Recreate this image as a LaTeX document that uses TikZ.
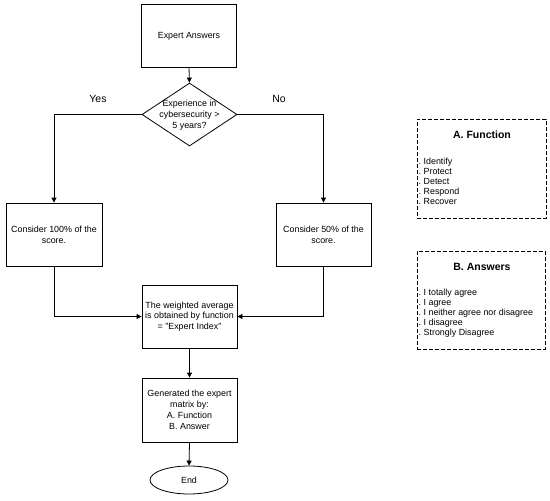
\documentclass[tikz,border=0pt]{standalone}
\usepackage{fontspec}
\setmainfont{Liberation Sans}
\usetikzlibrary{shapes.geometric,arrows.meta}
\begin{document}
\begin{tikzpicture}[x=1pt,y=-1pt,
  every node/.style={inner sep=0pt},
  txt/.style={font=\fontsize{8.9}{10.8}\selectfont},
  procbox/.style={draw, line width=0.8pt, minimum width=95pt, minimum height=63pt, align=center, txt},
  arr/.style={line width=0.8pt, -{Triangle[length=5pt,width=5pt]}},
  dbox/.style={draw, line width=0.8pt, dash pattern=on 4pt off 2pt},
  ttl/.style={font=\bfseries\fontsize{10.5}{12}\selectfont},
  lbl/.style={font=\fontsize{10.5}{12}\selectfont}]
\useasboundingbox (0,0) rectangle (550,501);
\fill[white] (0,0) rectangle (550,501);

\node[procbox] (a) at (189,36) {Expert Answers};
\node[diamond, draw, line width=0.8pt, minimum width=95pt, minimum height=63pt] (d) at (189.5,114.5) {};
\node[txt, align=center] (dt) at (189.5,115) {Experience in\\cybersecurity >\\5 years?};
\node[procbox, minimum width=96pt] (l) at (54,234.5) {Consider 100\% of the\\score.};
\node[procbox] (r) at (323.5,234.5) {Consider 50\% of the\\score.};
\node[procbox] (w) at (189.5,316.5) {The weighted average\\is obtained by function\\= "Expert Index"};
\node[procbox, minimum height=64pt] (g) at (189.5,410) {Generated the expert\\matrix by:\\A. Function\\B. Answer};
\node[ellipse, draw, line width=0.8pt, minimum width=78pt, minimum height=28pt, txt] (e) at (189,480) {End};

\node[lbl] (yes) at (98,99) {Yes};
\node[lbl] (no) at (279,99) {No};

\draw[arr] (a.south) -- (d.north);
\draw[arr] (d.west) -| (l.north);
\draw[arr] (d.east) -| (r.north);
\draw[arr] (l.south) |- (w.west);
\draw[arr] (r.south) |- (w.east);
\draw[arr] (w.south) -- (g.north);
\draw[arr] (g.south) -- (e.north);

% A. Function
\node[dbox, minimum width=129pt, minimum height=99pt] (fa) at (481.5,168.5) {};
\node[ttl] (fat) at (482,135) {A. Function};
\foreach \t [count=\i] in {Identify,Protect,Detect,Respond,Recover}
  \node[txt, anchor=base west] (fa\i) at (418.5,154+10*\i) {.\ \t};

% B. Answers
\node[dbox, minimum width=128pt, minimum height=98pt] (fb) at (481,300) {};
\node[ttl] (fbt) at (482,267) {B. Answers};
\foreach \t [count=\i] in {I totally agree,I agree,I neither agree nor disagree,I disagree,Strongly Disagree}
  \node[txt, anchor=base west] (fb\i) at (418.5,285+10*\i) {.\ \t};
\end{tikzpicture}
\end{document}
